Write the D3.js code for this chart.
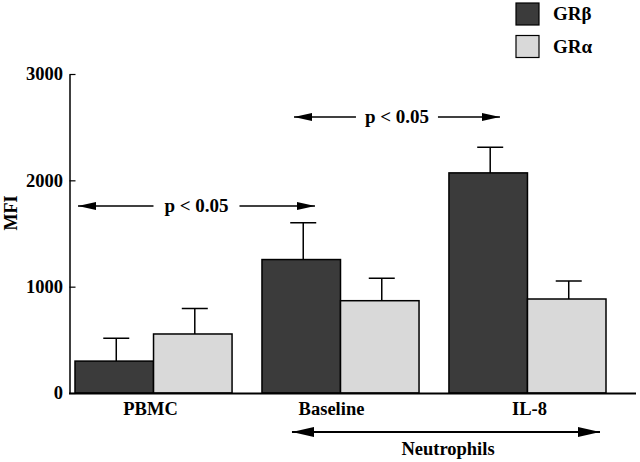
<!DOCTYPE html>
<html>
<head>
<meta charset="utf-8">
<script src="https://cdn.jsdelivr.net/npm/d3@7"></script>
<style>
  body { margin: 0; background: #fff; }
  svg { display: block; }
  text { font-family: "Liberation Serif", "Times New Roman", serif; font-weight: bold; fill: #000; }
</style>
</head>
<body>
<script>
// ---- Data ----
const categories = ["PBMC", "Baseline", "IL-8"];
const seriesNames = ["GRβ", "GRα"];
const grBeta = [300, 1255, 2070];
const grBetaErr = [215, 345, 240];
const grAlpha = [555, 868, 884];
const grAlphaErr = [240, 210, 170];
const yTicks = [0, 1000, 2000, 3000];
const sigLabels = ["p < 0.05", "p < 0.05"];
const groupLabel = "Neutrophils";
const yLabel = "MFI";

const W = 640, H = 462;
const svg = d3.select("body").append("svg").attr("width", W).attr("height", H);

const y = d3.scaleLinear().domain([0, 3000]).range([393, 74]);
const x0 = d3.scaleBand().domain(categories).range([75, 606]).paddingInner(0.16).paddingOuter(0);
const x1 = d3.scaleBand().domain(seriesNames).range([0, x0.bandwidth()]);
const colors = { "GRβ": "#3b3b3b", "GRα": "#d9d9d9" };

const rows = categories.map((c, i) => ({
  cat: c,
  vals: [
    { s: "GRβ", v: grBeta[i], e: grBetaErr[i] },
    { s: "GRα", v: grAlpha[i], e: grAlphaErr[i] }
  ]
}));

const g = svg.selectAll("g.grp").data(rows).join("g").attr("class", "grp")
  .attr("transform", d => `translate(${x0(d.cat)},0)`);

g.selectAll("path.err").data(d => d.vals).join("path").attr("class", "err")
  .attr("d", d => {
    const cx = x1(d.s) + x1.bandwidth() / 2 + 2;
    const t = y(d.v + d.e);
    return `M${cx},${y(d.v)}V${t}M${cx - 13},${t}H${cx + 13}`;
  })
  .attr("stroke", "#000").attr("stroke-width", 1.5).attr("fill", "none");

g.selectAll("rect").data(d => d.vals).join("rect")
  .attr("x", d => x1(d.s))
  .attr("y", d => y(d.v))
  .attr("width", x1.bandwidth())
  .attr("height", d => y(0) - y(d.v))
  .attr("fill", d => colors[d.s])
  .attr("stroke", "#000").attr("stroke-width", 1.5);

// Y axis
const yAxis = d3.axisLeft(y).tickValues(yTicks).tickSizeInner(-6).tickSizeOuter(0).tickPadding(6.5).tickFormat(d3.format("d"));
const ya = svg.append("g").attr("transform", "translate(69.5,0)").call(yAxis);
ya.select(".domain").attr("stroke", "#000").attr("stroke-width", 1.5);
ya.selectAll(".tick line").attr("stroke", "#000").attr("stroke-width", 1.2);
ya.selectAll(".tick text").style("font-size", "18.5px").style("font-family", "Liberation Serif").style("font-weight", "bold");

// X axis baseline
const xa = d3.axisBottom(x0).tickSize(0).tickPadding(9);
const xg = svg.append("g").attr("transform", "translate(0,393)").call(xa);
xg.select(".domain").attr("d", "M69,0.5H636").attr("stroke", "#000").attr("stroke-width", 1.8);
xg.selectAll(".tick text").style("font-size", "18.5px").style("font-family", "Liberation Serif").style("font-weight", "bold")
  .attr("dx", (d, i) => [-3, -9, 2][i]);

// Y label
svg.append("text").attr("transform", "translate(17,213) rotate(-90)")
  .attr("text-anchor", "middle").style("font-size", "18px").text(yLabel);

// arrow markers
const defs = svg.append("defs");
defs.append("marker").attr("id", "ah").attr("viewBox", "0 0 10 10").attr("refX", 10).attr("refY", 5)
  .attr("markerWidth", 18).attr("markerHeight", 8).attr("markerUnits", "userSpaceOnUse")
  .attr("orient", "auto-start-reverse").attr("preserveAspectRatio", "none")
  .append("path").attr("d", "M0,0L10,5L0,10Z").attr("fill", "#000");
defs.append("marker").attr("id", "ah2").attr("viewBox", "0 0 10 10").attr("refX", 10).attr("refY", 5)
  .attr("markerWidth", 22).attr("markerHeight", 10).attr("markerUnits", "userSpaceOnUse")
  .attr("orient", "auto-start-reverse").attr("preserveAspectRatio", "none")
  .append("path").attr("d", "M0,0L10,5L0,10Z").attr("fill", "#000");

function sigArrow(xa, xb, yy, label, gap) {
  const cx = (xa + xb) / 2;
  svg.append("line").attr("x1", cx - gap).attr("x2", xa).attr("y1", yy).attr("y2", yy)
    .attr("stroke", "#000").attr("stroke-width", 1.3).attr("marker-end", "url(#ah)");
  svg.append("line").attr("x1", cx + gap).attr("x2", xb).attr("y1", yy).attr("y2", yy)
    .attr("stroke", "#000").attr("stroke-width", 1.3).attr("marker-end", "url(#ah)");
  svg.append("text").attr("x", cx).attr("y", yy + 6).attr("text-anchor", "middle")
    .style("font-size", "19px").text(label);
}
sigArrow(x0("PBMC") + 3, x0("Baseline") + 53, 206, sigLabels[0], 43);
sigArrow(x0("Baseline") + 32, x0("IL-8") + 51, 117, sigLabels[1], 41);

// Neutrophils double arrow
const nx1 = x0("Baseline") + 30, nx2 = x0("IL-8") + x0.bandwidth() - 6;
svg.append("line").attr("x1", nx1).attr("x2", nx2).attr("y1", 432).attr("y2", 432)
  .attr("stroke", "#000").attr("stroke-width", 2)
  .attr("marker-start", "url(#ah2)").attr("marker-end", "url(#ah2)");
svg.append("text").attr("x", (nx1 + nx2) / 2 + 2).attr("y", 455).attr("text-anchor", "middle")
  .style("font-size", "18.5px").text(groupLabel);

// Legend
const leg = svg.append("g").attr("transform", "translate(516,3)");
seriesNames.forEach((s, i) => {
  leg.append("rect").attr("x", 0).attr("y", i * 32.5).attr("width", 23).attr("height", 22)
    .attr("fill", colors[s]).attr("stroke", "#000").attr("stroke-width", 1.2);
  leg.append("text").attr("x", 37).attr("y", i * 32.5 + 17).style("font-size", "19px").text(s);
});
</script>
</body>
</html>
